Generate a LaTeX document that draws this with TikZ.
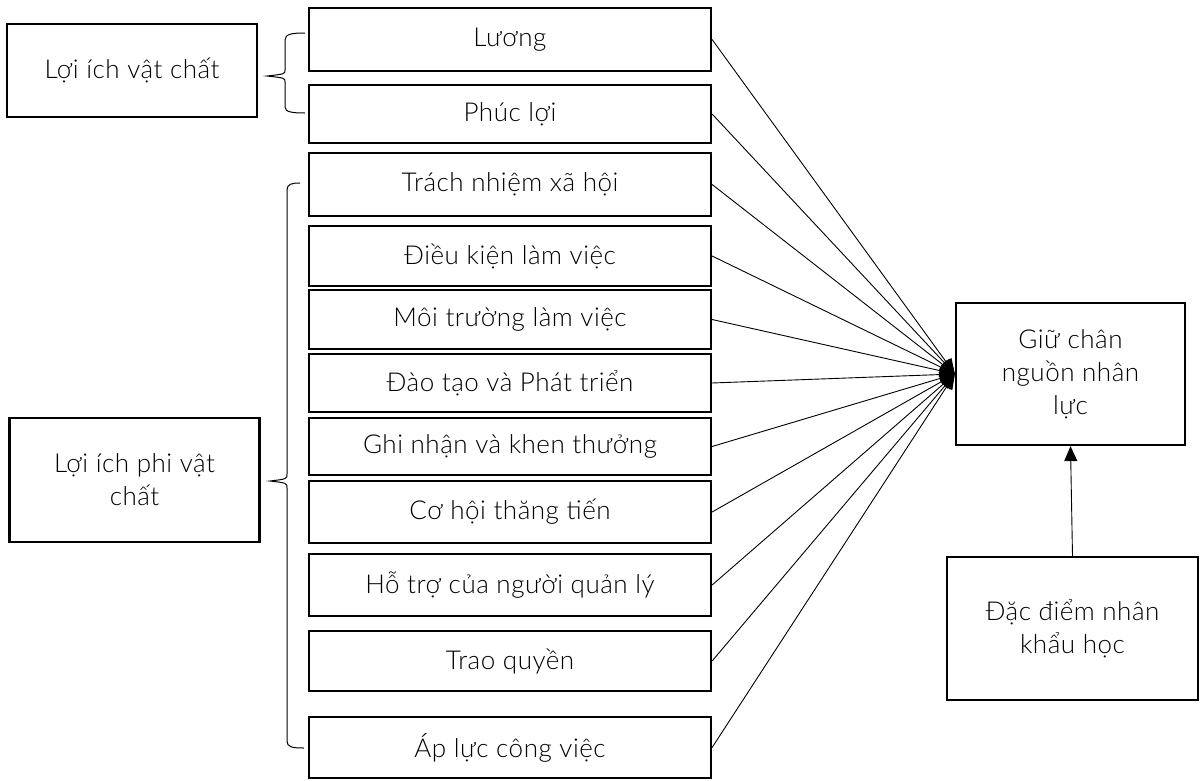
\documentclass[tikz,border=0pt]{standalone}
\usepackage{fontspec}
\IfFontExistsTF{Lato Light}{\setmainfont{Lato Light}[LetterSpace=2]}{%
  \IfFontExistsTF{Open Sans Light}{\setmainfont{Open Sans Light}}{\setmainfont{Lato}}}
\usetikzlibrary{arrows.meta}
\begin{document}
\begin{tikzpicture}[x=1pt,y=-1pt,
  box/.style={draw,line width=2.2pt,inner sep=0pt,font=\fontsize{26}{33}\selectfont,align=center},
  fan/.style={line width=0.9pt,-{Triangle[length=15pt,width=13pt]}},
  brace/.style={line width=1pt}]
\useasboundingbox (0,0) rectangle (1203,780);
% left category boxes
\node[box,minimum width=250pt,minimum height=93pt] (vc) at (132,70.5) {Lợi ích vật chất};
\node[box,minimum width=250pt,minimum height=124pt] (pvc) at (134.5,480) {Lợi ích phi vật\\chất};
% middle factor boxes (x 309..711)
\node[box,minimum width=402pt,minimum height=63pt] (b1) at (510,39.5) {Lương};
\node[box,minimum width=402pt,minimum height=58pt] (b2) at (510,114) {Phúc lợi};
\node[box,minimum width=402pt,minimum height=63pt] (b3) at (510,184.5) {Trách nhiệm xã hội};
\node[box,minimum width=402pt,minimum height=60pt] (b4) at (510,256) {Điều kiện làm việc};
\node[box,minimum width=402pt,minimum height=59pt] (b5) at (510,319.5) {Môi trường làm việc};
\node[box,minimum width=402pt,minimum height=58pt] (b6) at (510,383) {Đào tạo và Phát triển};
\node[box,minimum width=402pt,minimum height=57pt] (b7) at (510,446.5) {Ghi nhận và khen thưởng};
\node[box,minimum width=402pt,minimum height=62pt] (b8) at (510,512) {Cơ hội thăng tiến};
\node[box,minimum width=402pt,minimum height=62pt] (b9) at (510,585) {Hỗ trợ của người quản lý};
\node[box,minimum width=402pt,minimum height=60pt] (b10) at (510,661) {Trao quyền};
\node[box,minimum width=402pt,minimum height=61pt] (b11) at (510,747.5) {Áp lực công việc};
% right boxes
\node[box,minimum width=229pt,minimum height=142pt] (giu) at (1070.5,374) {Giữ chân\\nguồn nhân\\lực};
\node[box,minimum width=251pt,minimum height=143pt] (dd) at (1072.5,628.5) {Đặc điểm nhân\\khẩu học};
% fan connectors
\foreach \b in {b1,b2,b3,b4,b5,b6,b7,b8,b9,b10,b11}
  \draw[fan] (\b.east) -- (giu.west);
\draw[fan] (dd.north) -- (giu.south);
% braces
\draw[brace] (305,33) .. controls (292,33) and (285,34) .. (285,40) -- (285,70)
  .. controls (285,74) .. (267,76) .. controls (285,78) .. (285,82) -- (285,107)
  .. controls (285,112) and (292,113) .. (305,113);
\draw[brace] (300,183) .. controls (292,183) and (287,184) .. (287,190) -- (287,474)
  .. controls (287,479) .. (270,481) .. controls (287,483) .. (287,488) -- (287,741)
  .. controls (287,747) and (292,748) .. (304,748);
\end{tikzpicture}
\end{document}
